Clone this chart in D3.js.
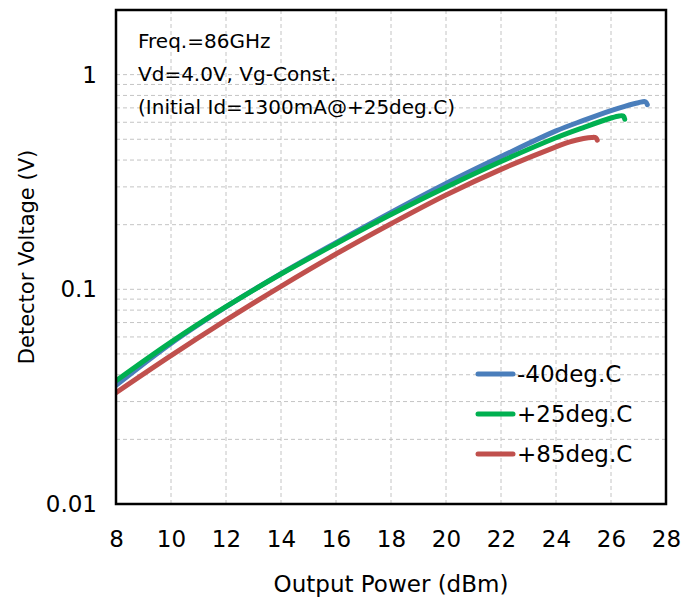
<!DOCTYPE html>
<html>
<head>
<meta charset="utf-8">
<script src="https://cdn.jsdelivr.net/npm/d3@7"></script>
<style>
  body { margin: 0; background: #fff; }
  svg { display: block; }
  text { font-family: "DejaVu Sans", Verdana, sans-serif; fill: #000; }
</style>
</head>
<body>
<svg id="chart" width="690" height="599"></svg>
<script>
// series (output power in dBm, detector voltage in V)
const seriesNames = ["-40deg.C", "+25deg.C", "+85deg.C"];

const powerM40 = [8, 10, 12, 14, 16, 18, 20, 22, 24, 25, 26, 26.5, 27, 27.25, 27.32];
const voltM40  = [0.0357, 0.056, 0.0828, 0.1183, 0.165, 0.228, 0.311, 0.415, 0.547, 0.612, 0.68, 0.712, 0.74, 0.748, 0.725];

const powerP25 = [8, 10, 12, 14, 16, 18, 20, 22, 24, 25, 26, 26.3, 26.45, 26.5];
const voltP25  = [0.0375, 0.0568, 0.083, 0.1178, 0.163, 0.223, 0.299, 0.394, 0.508, 0.567, 0.628, 0.642, 0.641, 0.62];

const powerP85 = [8, 10, 12, 14, 16, 18, 20, 22, 24, 24.5, 25, 25.3, 25.45, 25.5];
const voltP85  = [0.033, 0.0491, 0.0718, 0.1033, 0.146, 0.202, 0.275, 0.362, 0.461, 0.486, 0.504, 0.51, 0.508, 0.495];

const xTicks = [8, 10, 12, 14, 16, 18, 20, 22, 24, 26, 28];
const yTicks = [0.01, 0.1, 1];
const yTickLabels = ["0.01", "0.1", "1"];

const noteLines = ["Freq.=86GHz", "Vd=4.0V, Vg-Const.", "(Initial Id=1300mA@+25deg.C)"];

// colours for each series, same order as seriesNames
const colors = ["#4a7ebb", "#00b050", "#c0504d"];

// plot area
const plotLeft = 116, plotTop = 10, plotRight = 666, plotBottom = 504;

const svg = d3.select("#chart");

const x = d3.scaleLinear().domain([8, 28]).range([plotLeft, plotRight]);
const y = d3.scaleLog().domain([0.01, 2]).range([plotBottom, plotTop]);

// dashed grid, vertical every 2 dBm and log minor lines horizontally
const grid = svg.append("g").attr("stroke", "#c4c4c4").attr("stroke-width", 1).attr("stroke-dasharray", "4,3");
grid.selectAll("line.v")
  .data(xTicks.slice(1, -1))
  .enter().append("line")
  .attr("x1", d => x(d)).attr("x2", d => x(d))
  .attr("y1", plotTop).attr("y2", plotBottom);
grid.selectAll("line.h")
  .data(y.ticks().filter(d => d > 0.01 && d < 2))
  .enter().append("line")
  .attr("x1", plotLeft).attr("x2", plotRight)
  .attr("y1", d => y(d)).attr("y2", d => y(d));

// the curves
svg.append("clipPath").attr("id", "plotClip")
  .append("rect").attr("x", plotLeft).attr("y", plotTop)
  .attr("width", plotRight - plotLeft).attr("height", plotBottom - plotTop);

const line = d3.line()
  .x(d => x(d[0]))
  .y(d => y(d[1]))
  .curve(d3.curveCatmullRom.alpha(0.5));

const series = [
  d3.zip(powerM40, voltM40),
  d3.zip(powerP25, voltP25),
  d3.zip(powerP85, voltP85)
];

svg.append("g").attr("clip-path", "url(#plotClip)")
  .selectAll("path")
  .data(series)
  .enter().append("path")
  .attr("d", line)
  .attr("fill", "none")
  .attr("stroke", (d, i) => colors[i])
  .attr("stroke-width", 5)
  .attr("stroke-linecap", "round")
  .attr("stroke-linejoin", "round");

// frame
svg.append("rect")
  .attr("x", plotLeft).attr("y", plotTop)
  .attr("width", plotRight - plotLeft).attr("height", plotBottom - plotTop)
  .attr("fill", "none").attr("stroke", "#000").attr("stroke-width", 2.5);

// axis labels
const xAxis = d3.axisBottom(x).tickValues(xTicks).tickSize(0).tickPadding(27);
svg.append("g")
  .attr("transform", `translate(0,${plotBottom})`)
  .call(xAxis)
  .call(g => g.select(".domain").remove())
  .selectAll("text")
  .attr("font-size", 23)
  .attr("font-family", null);

const yAxis = d3.axisLeft(y).tickValues(yTicks).tickFormat((d, i) => yTickLabels[i]).tickSize(0).tickPadding(19);
svg.append("g")
  .attr("transform", `translate(${plotLeft},0)`)
  .call(yAxis)
  .call(g => g.select(".domain").remove())
  .selectAll("text")
  .attr("font-size", 23)
  .attr("font-family", null);

svg.append("text")
  .attr("x", (plotLeft + plotRight) / 2).attr("y", 592)
  .attr("text-anchor", "middle")
  .attr("font-size", 23)
  .text("Output Power (dBm)");

svg.append("text")
  .attr("transform", `translate(34,${(plotTop + plotBottom) / 2}) rotate(-90)`)
  .attr("text-anchor", "middle")
  .attr("font-size", 21)
  .text("Detector Voltage (V)");

// conditions note
svg.append("g").selectAll("text")
  .data(noteLines)
  .enter().append("text")
  .attr("x", 138)
  .attr("y", (d, i) => 48 + i * 33)
  .attr("font-size", 20)
  .text(d => d);

// legend
const legend = svg.append("g").selectAll("g")
  .data(seriesNames)
  .enter().append("g")
  .attr("transform", (d, i) => `translate(478,${374 + i * 40})`);
legend.append("line")
  .attr("x1", 0).attr("x2", 35)
  .attr("stroke", (d, i) => colors[i])
  .attr("stroke-width", 5)
  .attr("stroke-linecap", "round");
legend.append("text")
  .attr("x", 39).attr("y", 8)
  .attr("font-size", 23)
  .text(d => d);
</script>
</body>
</html>
